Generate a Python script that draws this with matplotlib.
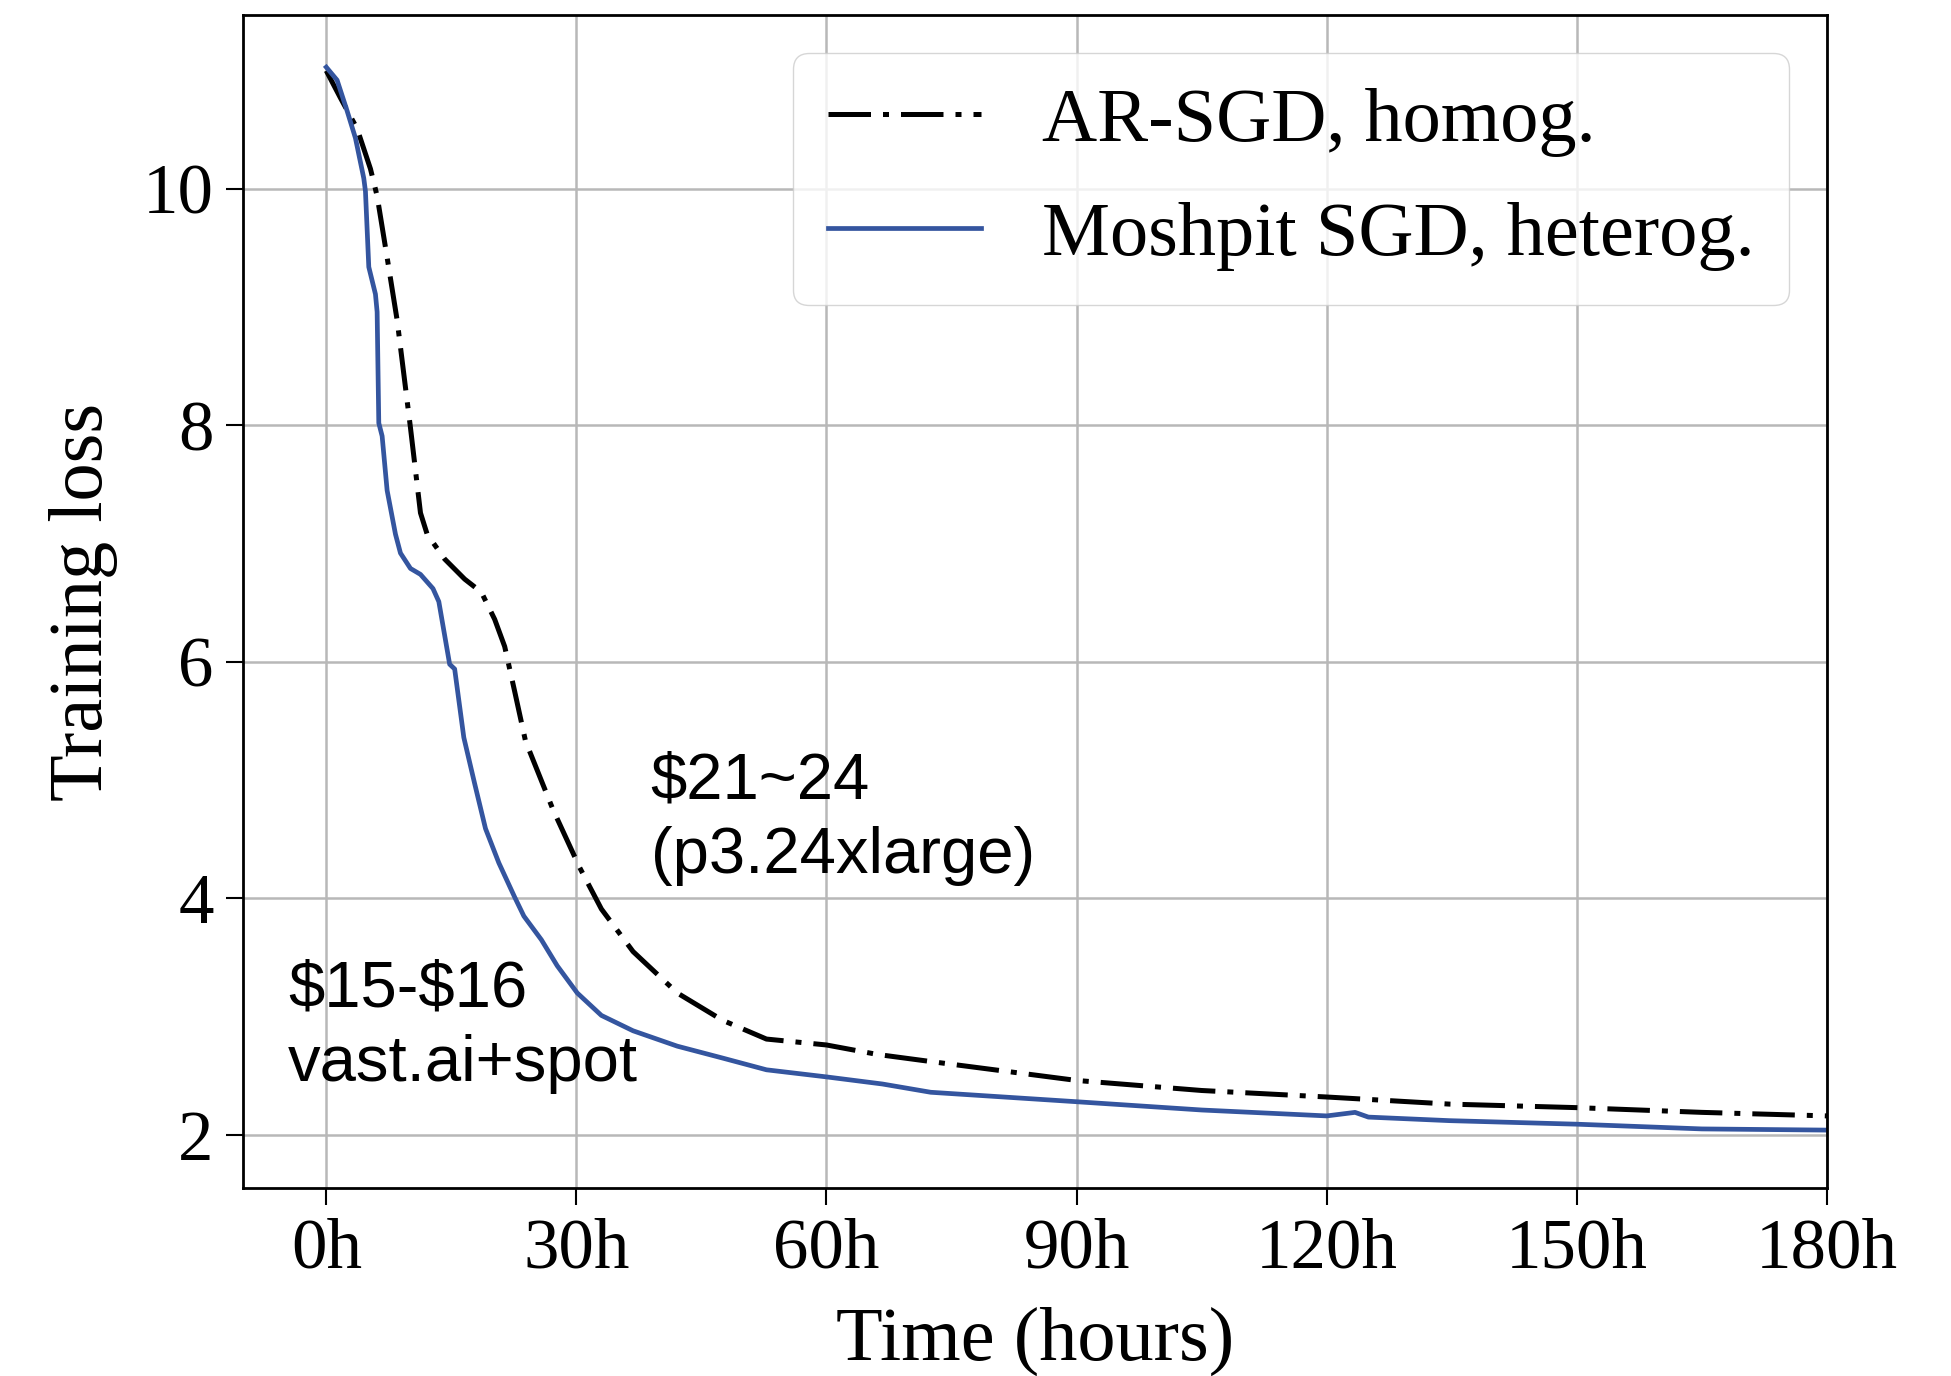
import matplotlib
matplotlib.use('Agg')
import matplotlib.pyplot as plt

# hours / training loss
ar_hours = [0, 1.7, 3.7, 5.3, 6.1, 7.3, 8.5, 10.1, 11.3, 12.1, 14.2, 16.6, 18.6, 20.2, 21.4,
            22.6, 23.9, 27.2, 30.4, 33.0, 36.8, 42.1, 47.5, 52.8, 60.0, 66.1, 72.5,
            90, 105, 120, 134.7, 150, 165, 180]
ar_loss = [11.0, 10.77, 10.51, 10.17, 9.94, 9.42, 8.89, 7.98, 7.26, 7.08, 6.87, 6.70, 6.59, 6.36, 6.13,
           5.75, 5.33, 4.75, 4.26, 3.91, 3.55, 3.20, 2.97, 2.81, 2.76, 2.68, 2.62,
           2.46, 2.375, 2.32, 2.26, 2.23, 2.19, 2.16]

mp_hours = [0, 1.3, 2.5, 3.5, 4.5, 4.7, 5.1, 5.9, 6.1, 6.3, 6.7, 7.3, 8.3, 8.9, 10.1, 11.3,
            12.8, 13.5, 14.8, 15.4, 16.5, 17.8, 19.1, 20.7, 22.6, 23.7, 25.8, 27.7, 30.1,
            33.0, 36.8, 42.1, 47.5, 52.8, 60.0, 66.7, 72.5, 90, 105, 120, 123.4, 125,
            134.7, 150, 165, 180]
mp_loss = [11.03, 10.92, 10.66, 10.43, 10.09, 9.98, 9.34, 9.11, 8.96, 8.02, 7.91, 7.45, 7.08, 6.92, 6.79, 6.74,
           6.62, 6.51, 5.98, 5.94, 5.36, 4.97, 4.59, 4.30, 4.01, 3.85, 3.65, 3.43, 3.20,
           3.01, 2.88, 2.75, 2.65, 2.55, 2.49, 2.43, 2.36, 2.28, 2.21, 2.16, 2.19, 2.15,
           2.12, 2.09, 2.05, 2.04]

xticks = [0, 30, 60, 90, 120, 150, 180]
xticklabels = ['0h', '30h', '60h', '90h', '120h', '150h', '180h']
yticks = [2, 4, 6, 8, 10]

plt.rcParams['font.family'] = ['Liberation Serif', 'DejaVu Serif']

fig = plt.figure(figsize=(19.51, 13.76), dpi=100)
ax = fig.add_axes([0.1245, 0.1366, 0.8119, 0.8524])

ax.plot(ar_hours, ar_loss, color='black', lw=3.6, dashes=(8.5, 2.4, 1.2, 2.4),
        label='AR-SGD, homog.')
ax.plot(mp_hours, mp_loss, '-', color='#34559f', lw=3.4, label='Moshpit SGD, heterog.')

ax.set_xlim(-10, 180)
ax.set_ylim(1.55, 11.47)
ax.set_xticks(xticks)
ax.set_xticklabels(xticklabels)
ax.set_yticks(yticks)
ax.tick_params(labelsize=51, length=12, width=1.5, pad=9)
ax.grid(True, color='#b8b8b8', lw=1.8)
for s in ax.spines.values():
    s.set_linewidth(2)

ax.set_xlabel('Time (hours)', fontsize=55, labelpad=18)
ax.set_ylabel('Training loss', fontsize=55, labelpad=18)

ax.legend(loc='upper right', fontsize=55, handlelength=2.0, labelspacing=0.58, borderpad=0.45)

ax.text(38.9, 5.24, '\\$21~24\n(p3.24xlarge)', family='Liberation Sans', fontsize=47,
        ha='left', va='top', linespacing=1.3)
ax.text(-4.6, 3.48, '\\$15-\\$16\nvast.ai+spot', family='Liberation Sans', fontsize=47,
        ha='left', va='top', linespacing=1.3)

fig.savefig('out.png', dpi=100)
